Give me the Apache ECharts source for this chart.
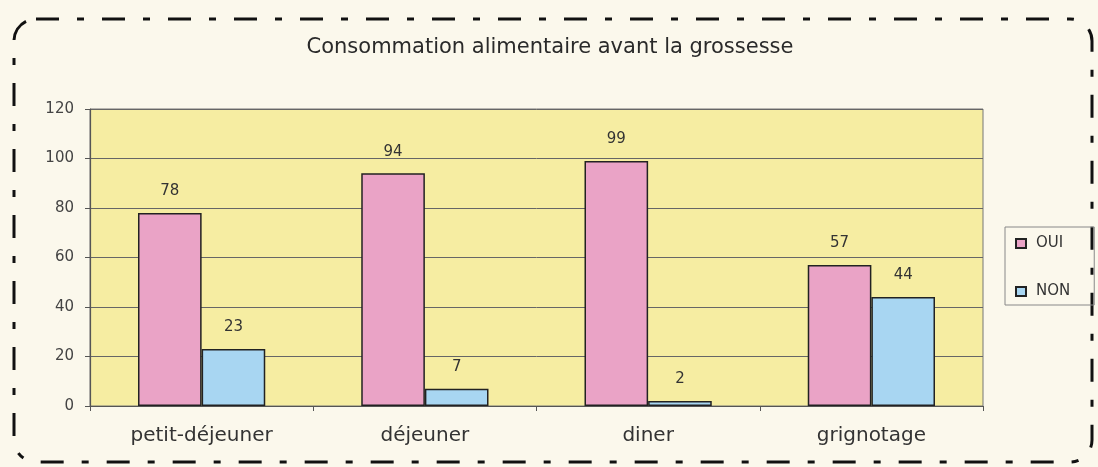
<!DOCTYPE html>
<html>
<head>
<meta charset="utf-8">
<script src="https://cdn.jsdelivr.net/npm/echarts@6/dist/echarts.min.js"></script>
<style>
  html, body { margin: 0; padding: 0; background: #fbf8ec; }
  #chart { width: 1098px; height: 467px; }
</style>
</head>
<body>
<div id="chart"></div>
<script>
  // données
  var categories = ['petit-déjeuner', 'déjeuner', 'diner', 'grignotage'];
  var oui = [78, 94, 99, 57];
  var non = [23, 7, 2, 44];
  var seriesNames = ['OUI', 'NON'];

  var font = 'DejaVu Sans';
  var chart = echarts.init(document.getElementById('chart'));

  chart.setOption({
    backgroundColor: '#fbf8ec',
    animation: false,
    title: {
      text: 'Consommation alimentaire avant la grossesse',
      left: 545,
      textAlign: 'center',
      top: 32,
      textStyle: { fontFamily: font, fontSize: 21, fontWeight: 'normal', color: '#2a2a2a' }
    },
    graphic: [{
      type: 'rect',
      shape: { x: 14, y: 19, width: 1078, height: 443, r: 22 },
      style: { fill: 'none', stroke: '#111', lineWidth: 3, lineDash: [23, 18, 7, 18] },
      silent: true
    }],
    legend: {
      data: seriesNames,
      orient: 'vertical',
      left: 1005,
      top: 227,
      padding: [9, 24, 6, 10],
      itemGap: 33,
      itemWidth: 10,
      itemHeight: 9,
      icon: 'rect',
      borderColor: '#888',
      borderWidth: 1,
      textStyle: { fontFamily: font, fontSize: 15, color: '#333', padding: [0, 0, 0, 5] }
    },
    grid: {
      left: 90, right: 115, top: 109, bottom: 61,
      show: true,
      backgroundColor: '#f6eda2',
      borderColor: '#777',
      borderWidth: 1
    },
    xAxis: {
      type: 'category',
      data: categories,
      axisLine: { lineStyle: { color: '#555', width: 1.2 } },
      axisTick: { show: true, length: 5, lineStyle: { color: '#555' } },
      axisLabel: { fontFamily: font, fontSize: 20, color: '#333', margin: 20 }
    },
    yAxis: {
      type: 'value',
      min: 0, max: 120, interval: 20,
      axisLine: { show: true, lineStyle: { color: '#555', width: 1.2 } },
      axisTick: { show: true, length: 5, lineStyle: { color: '#555' } },
      axisLabel: { fontFamily: font, fontSize: 15, color: '#444', margin: 16 },
      splitLine: { lineStyle: { color: '#666', width: 1 } }
    },
    series: [{
      name: seriesNames[0],
      type: 'bar',
      data: oui,
      barGap: '0%',
      barCategoryGap: '43%',
      itemStyle: { color: '#eaa3c6', borderColor: '#222', borderWidth: 1.5 },
      label: { show: true, position: 'top', distance: 14, fontFamily: font, fontSize: 15, color: '#333' }
    }, {
      name: seriesNames[1],
      type: 'bar',
      data: non,
      itemStyle: { color: '#a8d6f2', borderColor: '#222', borderWidth: 1.5 },
      label: { show: true, position: 'top', distance: 14, fontFamily: font, fontSize: 15, color: '#333' }
    }]
  });
</script>
</body>
</html>
